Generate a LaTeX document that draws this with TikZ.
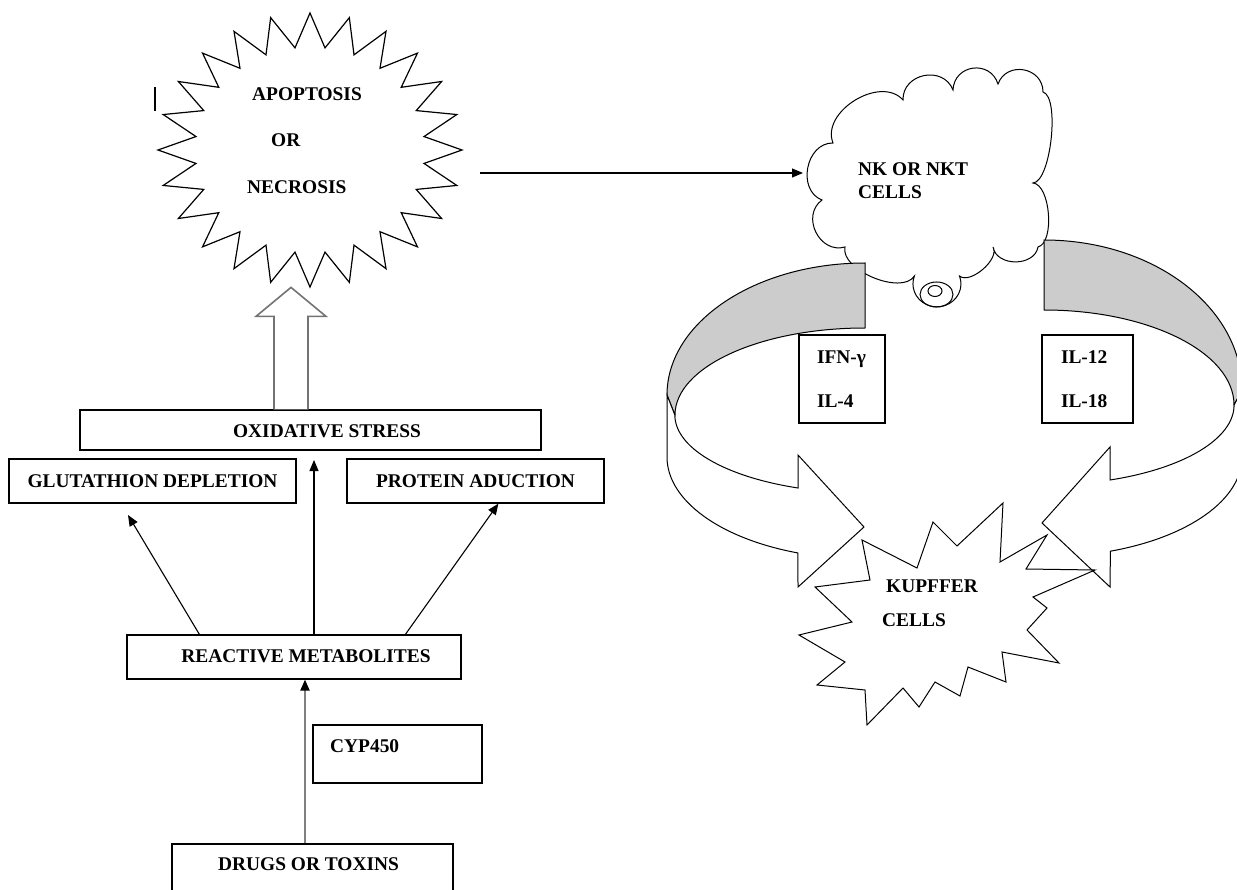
\documentclass[tikz,border=0pt]{standalone}
\usepackage{fontspec}
\setmainfont{Liberation Serif}
\usetikzlibrary{arrows.meta,calc}

\tikzset{
  box/.style={draw, fill=white, line width=1.2pt, inner sep=0pt},
  txt/.style={anchor=base west, inner sep=0pt},
  arr/.style={-{Triangle[length=11pt,width=9pt]}, line width=1.1pt},
  puff/.style={bend left=80, looseness=#1},
  band/.style={draw, line width=1pt},
}

\begin{document}
\begin{tikzpicture}[x=1pt, y=-1pt, font=\fontsize{19.4}{23}\selectfont\bfseries]
\useasboundingbox (0,0) rectangle (1237,890);
\clip (0,0) rectangle (1237,890);

%apoptosis or necrosis
\draw[line width=1.2pt, shift={(310,150)}] (0:152 and 137)
  \foreach \k in {0,...,23} { -- ({\k*15}:152 and 137) -- ({\k*15+7.5}:115 and 103) } -- cycle;
\node[txt] (apop) at (252,101) {APOPTOSIS};
\node[txt] (apor) at (271,147) {OR};
\node[txt] (necr) at (247,194) {NECROSIS};
\draw[line width=1.6pt] (155,87) -- (155,111);

%left chain
\node[box, minimum width=461, minimum height=40] (oxid) at (310.5,430) {};
\node[anchor=center, inner sep=0pt] (oxtxt) at (327,431) {OXIDATIVE STRESS};
\node[box, minimum width=287, minimum height=44] (glut) at (152.5,481) {GLUTATHION DEPLETION};
\node[box, minimum width=257, minimum height=44] (prot) at (475.5,481) {PROTEIN ADUCTION};
\node[box, minimum width=334, minimum height=44] (react) at (294,657) {};
\node[anchor=center, inner sep=0pt] (retxt) at (306,656) {REACTIVE METABOLITES};
\node[box, minimum width=169, minimum height=58] (cyp) at (397.5,754) {};
\node[txt] (cyptxt) at (330,752) {CYP450};
\node[box, minimum width=281, minimum height=60] (drugs) at (312.5,874) {};
\node[txt] (drtxt) at (218,870) {DRUGS OR TOXINS};

\draw[draw=black!55, line width=1.6pt, fill=white, shift={(oxid.north)}]
  (-36.5,0) -- (-36.5,-93) -- (-54.5,-93) -- (-19.5,-122) -- (15.5,-93) -- (-2.5,-93) -- (-2.5,0);

\coordinate (glin) at (128,515);
\coordinate (oxin) at (314,460);
\coordinate (drx) at (305,0);
\draw[arr] ($(react.north west)+(73,0)$) -- (glin);
\draw[arr] (react.north -| oxin) -- (oxin);
\draw[arr] ($(react.north west)+(279,0)$) -- ($(prot.south west)+(152,0)$);
\draw[arr, draw=black!50, line width=2pt, -{Triangle[length=11pt,width=9pt,black]}] (drugs.north -| drx) -- (react.south -| drx);

%cells
\draw[fill=white, line width=1pt] (833,143) to[puff=1.05] (903,100) to[puff=1.35] (953,90)
  to[puff=1.45] (998,84) to[puff=1.4] (1043,92) to[puff=0.5] (1033,183) to[puff=0.7] (1038,247)
  to[puff=1.15] (993,247) to[puff=0.8] (959.5,276) arc[start angle=-20, end angle=200, x radius=24, y radius=23]
  to[puff=0.8] (845,247) to[puff=1.3] (822,200) to[puff=1.2] (833,143) -- cycle;
\draw[line width=1pt] (936.5,294.5) ellipse [x radius=16.5, y radius=12.5];
\draw[line width=1pt] (935,291) ellipse [x radius=7, y radius=5.5];
\node[txt] (nk1) at (858,176) {NK OR NKT};
\node[txt] (nk2) at (858,199) {CELLS};
\coordinate (apr) at (480,173);
\coordinate (nkw) at (803,173);
\draw[arr] (apr) -- (nkw);

%curved arrows
\draw[band, fill=black!20] (865,263) arc[start angle=270, end angle=180, x radius=198, y radius=132]
  -- (675,415) arc[start angle=180, end angle=270, x radius=190, y radius=87] -- cycle;
\draw[band, fill=white] (667,395) -- (667,457) arc[start angle=180, end angle=109.8, x radius=198, y radius=102]
  -- (798,587) -- (864,527) -- (798,455) -- (798,488)
  arc[start angle=110.6, end angle=180, x radius=190, y radius=78] -- cycle;
\draw[band, fill=black!20] (1044,240) arc[start angle=270, end angle=360, x radius=198, y radius=150]
  -- (1234,405) arc[start angle=0, end angle=-90, x radius=190, y radius=95] -- cycle;
\draw[band, fill=white] (1242,390) -- (1242,457) arc[start angle=0, end angle=70.4, x radius=198, y radius=100]
  -- (1110,587) -- (1042,523) -- (1110,447) -- (1110,480)
  arc[start angle=69.7, end angle=0, x radius=190, y radius=80] -- cycle;

\node[box, minimum width=86, minimum height=88, align=left, text width=50pt,
  font=\fontsize{19.4}{44}\selectfont\bfseries] (ifn) at (842,379) {IFN-γ\\IL-4};
\node[box, minimum width=91, minimum height=88, align=left, text width=53pt,
  font=\fontsize{19.4}{44}\selectfont\bfseries] (il) at (1087.5,379) {IL-12\\IL-18};

%kupffer
\draw[line width=1pt] (862,540) -- (870,580) -- (815,587) -- (852,622) -- (799,635) -- (845,662)
  -- (817,685) -- (865,690) -- (867,725) -- (903,688) -- (919,707) -- (935,682) -- (960,696)
  -- (968,667) -- (1006,682) -- (1002,652) -- (1059,663) -- (1027,630) -- (1047,608) -- (1033,597)
  -- (1095,570) -- (1026,569) -- (1047,535) -- (1000,562) -- (1003,503) -- (957,546) -- (933,522)
  -- (917,568) -- cycle;
\node[txt] (kup1) at (886,592) {KUPFFER};
\node[txt] (kup2) at (882,626) {CELLS};
\end{tikzpicture}
\end{document}
